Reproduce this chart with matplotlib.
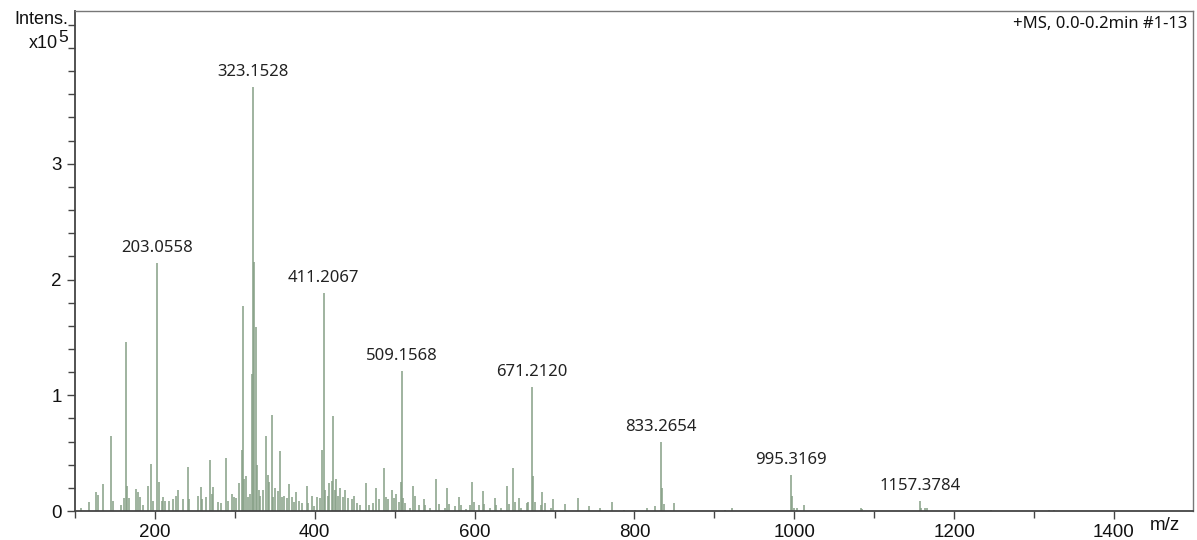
import matplotlib
matplotlib.use("Agg")
import matplotlib.pyplot as plt
from matplotlib.ticker import MultipleLocator, FixedLocator

# peak list: m/z and intensity (x10^5)
mz = [107, 117, 126, 129, 135, 145, 148, 158, 161, 163.3, 165, 168, 176, 179, 181, 185,
      191.7, 195, 197, 203.0558, 205, 209, 210, 213, 218, 222, 226, 229, 235, 241, 243,
      254, 257, 259, 264, 269, 271, 273, 279, 283, 289, 292, 296, 299, 302, 305, 308.5,
      310.6, 312, 313.5, 316, 319, 320.9, 323.1528, 324.2, 326.2, 327.5, 330, 332, 335,
      338.8, 341, 343, 346.7, 348, 350.6, 354, 357, 359, 362, 365, 368, 371, 374, 377,
      380, 384, 390, 392, 396, 399, 403, 406, 408.7, 411.2067, 413, 416, 418, 421, 422.9,
      425, 427, 429, 432, 435, 438, 442, 446, 449, 453, 457, 464.6, 468, 473, 477, 480,
      486.7, 489, 492, 496, 499, 502, 505, 508.2, 509.1568, 511, 513, 519, 522.9, 525.8,
      531, 536.7, 538, 544, 552, 555, 563, 566, 568, 575, 581, 583, 589, 594, 597, 599,
      606, 610, 612, 619, 625, 627, 633, 640.4, 643, 648.3, 651, 655, 658, 665, 667,
      671.2120, 672.5, 675, 683, 684.6, 688, 696, 698.7, 712.5, 729, 743, 757, 772, 787,
      801, 816, 826, 833.2654, 834.8, 837, 850, 913, 922, 995.3169, 996.8, 1000, 1003,
      1012, 1083, 1085, 1157.3784, 1159, 1164, 1166, 1246, 1319, 1325]
intens = [0.03, 0.08, 0.16, 0.14, 0.23, 0.65, 0.09, 0.05, 0.11, 1.46, 0.22, 0.11, 0.19, 0.16, 0.12, 0.05,
          0.22, 0.41, 0.09, 2.14, 0.25, 0.09, 0.12, 0.09, 0.09, 0.10, 0.13, 0.18, 0.10, 0.38, 0.10,
          0.13, 0.21, 0.10, 0.12, 0.44, 0.15, 0.21, 0.08, 0.07, 0.46, 0.09, 0.15, 0.12, 0.11, 0.24, 0.53,
          1.77, 0.28, 0.30, 0.12, 0.15, 1.18, 3.66, 2.15, 1.59, 0.40, 0.18, 0.13, 0.18,
          0.65, 0.31, 0.25, 0.83, 0.12, 0.20, 0.17, 0.52, 0.12, 0.13, 0.11, 0.23, 0.12, 0.08, 0.16,
          0.09, 0.07, 0.22, 0.07, 0.13, 0.04, 0.12, 0.11, 0.53, 1.88, 0.18, 0.13, 0.24, 0.26, 0.82,
          0.18, 0.28, 0.13, 0.20, 0.12, 0.18, 0.11, 0.10, 0.13, 0.07, 0.05, 0.24, 0.05, 0.07, 0.20, 0.10,
          0.37, 0.12, 0.10, 0.18, 0.11, 0.15, 0.08, 0.25, 1.21, 0.11, 0.07, 0.03, 0.22, 0.13,
          0.05, 0.10, 0.05, 0.03, 0.28, 0.06, 0.03, 0.20, 0.06, 0.04, 0.12, 0.05, 0.02, 0.05, 0.25, 0.08,
          0.05, 0.17, 0.06, 0.03, 0.11, 0.05, 0.03, 0.22, 0.06, 0.37, 0.08, 0.11, 0.03, 0.07, 0.08,
          1.07, 0.30, 0.08, 0.05, 0.16, 0.07, 0.03, 0.10, 0.06, 0.11, 0.04, 0.03, 0.08, 0.01,
          0.01, 0.03, 0.04, 0.60, 0.20, 0.06, 0.07, 0.01, 0.03, 0.31, 0.13, 0.03, 0.03,
          0.05, 0.03, 0.02, 0.09, 0.03, 0.03, 0.03, 0.01, 0.005, 0.005]

labeled = [203.0558, 323.1528, 411.2067, 509.1568, 671.2120, 833.2654, 995.3169, 1157.3784]
y_major = [0, 1, 2, 3]

fig = plt.figure(figsize=(11.97, 5.4), dpi=100)
ax = fig.add_axes([0.0627, 0.0537, 0.934, 0.926])

ax.vlines(mz, 0, intens, color="#86a086", linewidth=1.3, alpha=0.85)

for m in labeled:
    h = intens[mz.index(m)]
    ax.annotate(f"{m:.4f}", (m, h), xytext=(0, 5), textcoords="offset points",
                ha="center", va="bottom", fontsize=12, family="Noto Sans", color="#222222")

ax.set_xlim(100, 1499)
ax.set_ylim(0, 4.32)
ax.xaxis.set_major_locator(MultipleLocator(200))
ax.xaxis.set_minor_locator(MultipleLocator(100))
ax.yaxis.set_major_locator(FixedLocator(y_major))
ax.yaxis.set_minor_locator(MultipleLocator(0.2))
ax.tick_params(which="both", direction="out", colors="#444444", labelcolor="#111111",
               labelsize=13.5, width=1)
ax.tick_params(which="major", length=6)
ax.tick_params(which="minor", length=5)
for lbl in ax.get_xticklabels() + ax.get_yticklabels():
    lbl.set_family("Liberation Sans")

for s in ["left", "bottom"]:
    ax.spines[s].set_color("#444444")
    ax.spines[s].set_linewidth(1.3)
for s in ["top", "right"]:
    ax.spines[s].set_color("#777777")
    ax.spines[s].set_linewidth(1.0)

ax.text(0.995, 0.99, "+MS, 0.0-0.2min #1-13", transform=ax.transAxes, ha="right", va="top",
        fontsize=12, family="Noto Sans", color="#111111")

fig.text(68 / 1197, 1 - 19 / 540, "Intens.", ha="right", va="center", fontsize=13,
         family="Liberation Sans", color="#111111")
fig.text(58 / 1197, 1 - 44 / 540, "x10", ha="right", va="center", fontsize=13,
         family="Liberation Sans", color="#111111")
fig.text(58 / 1197, 1 - 38 / 540, "5", ha="left", va="center", fontsize=12.5,
         family="Liberation Sans", color="#111111")
fig.text(1165 / 1197, 1 - 525 / 540, "m/z", ha="center", va="center", fontsize=13.5,
         family="Liberation Sans", color="#111111")

fig.savefig("out.png", dpi=100)
